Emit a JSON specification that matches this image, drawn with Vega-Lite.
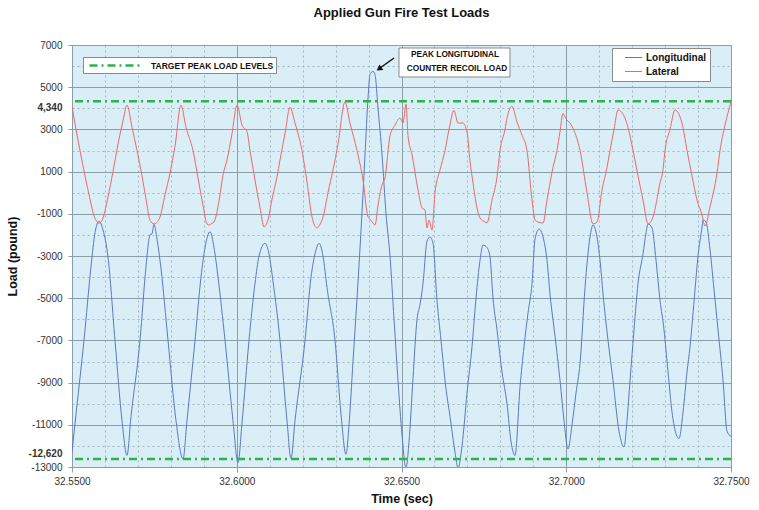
{
  "$schema": "https://vega.github.io/schema/vega-lite/v6.json",
  "width": 659,
  "height": 422,
  "autosize": {"type": "none"},
  "padding": {"left": 72, "top": 45, "right": 28, "bottom": 43},
  "background": "white",
  "title": {"text": "Applied Gun Fire Test Loads", "fontSize": 13, "font": "Liberation Sans", "fontWeight": "bold", "color": "#111111", "anchor": "middle", "frame": "group", "offset": 20},
  "datasets": {
    "loads": [
      {"t": 32.55000, "load": -12300, "series": "Longitudinal"},
      {"t": 32.55121, "load": -10500, "series": "Longitudinal"},
      {"t": 32.55364, "load": -7000, "series": "Longitudinal"},
      {"t": 32.55577, "load": -3500, "series": "Longitudinal"},
      {"t": 32.55698, "load": -1900, "series": "Longitudinal"},
      {"t": 32.55819, "load": -1350, "series": "Longitudinal"},
      {"t": 32.55941, "load": -1770, "series": "Longitudinal"},
      {"t": 32.56093, "load": -3050, "series": "Longitudinal"},
      {"t": 32.56305, "load": -7000, "series": "Longitudinal"},
      {"t": 32.56518, "load": -10800, "series": "Longitudinal"},
      {"t": 32.56669, "load": -12450, "series": "Longitudinal"},
      {"t": 32.56791, "load": -10600, "series": "Longitudinal"},
      {"t": 32.57064, "load": -7000, "series": "Longitudinal"},
      {"t": 32.57246, "load": -3500, "series": "Longitudinal"},
      {"t": 32.57367, "load": -2000, "series": "Longitudinal"},
      {"t": 32.57428, "load": -1950, "series": "Longitudinal"},
      {"t": 32.57489, "load": -1500, "series": "Longitudinal"},
      {"t": 32.57580, "load": -2200, "series": "Longitudinal"},
      {"t": 32.57701, "load": -3600, "series": "Longitudinal"},
      {"t": 32.57914, "load": -7000, "series": "Longitudinal"},
      {"t": 32.58156, "load": -10800, "series": "Longitudinal"},
      {"t": 32.58369, "load": -12620, "series": "Longitudinal"},
      {"t": 32.58490, "load": -10800, "series": "Longitudinal"},
      {"t": 32.58733, "load": -7000, "series": "Longitudinal"},
      {"t": 32.58915, "load": -4000, "series": "Longitudinal"},
      {"t": 32.59037, "load": -2600, "series": "Longitudinal"},
      {"t": 32.59188, "load": -1850, "series": "Longitudinal"},
      {"t": 32.59310, "load": -2600, "series": "Longitudinal"},
      {"t": 32.59431, "load": -4000, "series": "Longitudinal"},
      {"t": 32.59644, "load": -7000, "series": "Longitudinal"},
      {"t": 32.59886, "load": -10800, "series": "Longitudinal"},
      {"t": 32.60038, "load": -12800, "series": "Longitudinal"},
      {"t": 32.60160, "load": -10900, "series": "Longitudinal"},
      {"t": 32.60372, "load": -7000, "series": "Longitudinal"},
      {"t": 32.60554, "load": -4300, "series": "Longitudinal"},
      {"t": 32.60676, "load": -3000, "series": "Longitudinal"},
      {"t": 32.60858, "load": -2400, "series": "Longitudinal"},
      {"t": 32.60979, "load": -2900, "series": "Longitudinal"},
      {"t": 32.61100, "load": -4200, "series": "Longitudinal"},
      {"t": 32.61313, "load": -7000, "series": "Longitudinal"},
      {"t": 32.61525, "load": -10800, "series": "Longitudinal"},
      {"t": 32.61647, "load": -12600, "series": "Longitudinal"},
      {"t": 32.61768, "load": -10800, "series": "Longitudinal"},
      {"t": 32.62072, "load": -7000, "series": "Longitudinal"},
      {"t": 32.62254, "load": -4000, "series": "Longitudinal"},
      {"t": 32.62375, "load": -2900, "series": "Longitudinal"},
      {"t": 32.62497, "load": -2400, "series": "Longitudinal"},
      {"t": 32.62618, "load": -3000, "series": "Longitudinal"},
      {"t": 32.62739, "load": -4500, "series": "Longitudinal"},
      {"t": 32.62982, "load": -7000, "series": "Longitudinal"},
      {"t": 32.63164, "load": -10500, "series": "Longitudinal"},
      {"t": 32.63316, "load": -12400, "series": "Longitudinal"},
      {"t": 32.63407, "load": -11000, "series": "Longitudinal"},
      {"t": 32.63528, "load": -8000, "series": "Longitudinal"},
      {"t": 32.63650, "load": -5000, "series": "Longitudinal"},
      {"t": 32.63771, "load": -1800, "series": "Longitudinal"},
      {"t": 32.63893, "load": 1800, "series": "Longitudinal"},
      {"t": 32.63984, "load": 4500, "series": "Longitudinal"},
      {"t": 32.64044, "load": 5600, "series": "Longitudinal"},
      {"t": 32.64135, "load": 5750, "series": "Longitudinal"},
      {"t": 32.64196, "load": 5600, "series": "Longitudinal"},
      {"t": 32.64287, "load": 4000, "series": "Longitudinal"},
      {"t": 32.64409, "load": 1800, "series": "Longitudinal"},
      {"t": 32.64530, "load": -1000, "series": "Longitudinal"},
      {"t": 32.64651, "load": -3000, "series": "Longitudinal"},
      {"t": 32.64773, "load": -6000, "series": "Longitudinal"},
      {"t": 32.64894, "load": -8900, "series": "Longitudinal"},
      {"t": 32.65016, "load": -11500, "series": "Longitudinal"},
      {"t": 32.65137, "load": -13050, "series": "Longitudinal"},
      {"t": 32.65228, "load": -11800, "series": "Longitudinal"},
      {"t": 32.65349, "load": -8800, "series": "Longitudinal"},
      {"t": 32.65471, "load": -6000, "series": "Longitudinal"},
      {"t": 32.65562, "load": -5300, "series": "Longitudinal"},
      {"t": 32.65653, "load": -4300, "series": "Longitudinal"},
      {"t": 32.65774, "load": -2300, "series": "Longitudinal"},
      {"t": 32.65865, "load": -2100, "series": "Longitudinal"},
      {"t": 32.65956, "load": -2400, "series": "Longitudinal"},
      {"t": 32.66078, "load": -5100, "series": "Longitudinal"},
      {"t": 32.66199, "load": -7000, "series": "Longitudinal"},
      {"t": 32.66351, "load": -9300, "series": "Longitudinal"},
      {"t": 32.66472, "load": -10600, "series": "Longitudinal"},
      {"t": 32.66624, "load": -12300, "series": "Longitudinal"},
      {"t": 32.66715, "load": -13050, "series": "Longitudinal"},
      {"t": 32.66837, "load": -12000, "series": "Longitudinal"},
      {"t": 32.66988, "load": -9500, "series": "Longitudinal"},
      {"t": 32.67140, "load": -7300, "series": "Longitudinal"},
      {"t": 32.67261, "load": -5000, "series": "Longitudinal"},
      {"t": 32.67383, "load": -3200, "series": "Longitudinal"},
      {"t": 32.67474, "load": -2480, "series": "Longitudinal"},
      {"t": 32.67595, "load": -2600, "series": "Longitudinal"},
      {"t": 32.67686, "load": -3050, "series": "Longitudinal"},
      {"t": 32.67777, "load": -5000, "series": "Longitudinal"},
      {"t": 32.67899, "load": -6500, "series": "Longitudinal"},
      {"t": 32.68051, "load": -8500, "series": "Longitudinal"},
      {"t": 32.68202, "load": -10000, "series": "Longitudinal"},
      {"t": 32.68324, "load": -11800, "series": "Longitudinal"},
      {"t": 32.68445, "load": -12450, "series": "Longitudinal"},
      {"t": 32.68597, "load": -9200, "series": "Longitudinal"},
      {"t": 32.68718, "load": -7300, "series": "Longitudinal"},
      {"t": 32.68840, "load": -5700, "series": "Longitudinal"},
      {"t": 32.68961, "load": -4300, "series": "Longitudinal"},
      {"t": 32.69052, "load": -2200, "series": "Longitudinal"},
      {"t": 32.69174, "load": -1720, "series": "Longitudinal"},
      {"t": 32.69295, "load": -2100, "series": "Longitudinal"},
      {"t": 32.69416, "load": -3200, "series": "Longitudinal"},
      {"t": 32.69507, "load": -4800, "series": "Longitudinal"},
      {"t": 32.69659, "load": -6800, "series": "Longitudinal"},
      {"t": 32.69811, "load": -8900, "series": "Longitudinal"},
      {"t": 32.69932, "load": -10800, "series": "Longitudinal"},
      {"t": 32.70054, "load": -12150, "series": "Longitudinal"},
      {"t": 32.70175, "load": -11000, "series": "Longitudinal"},
      {"t": 32.70296, "load": -9500, "series": "Longitudinal"},
      {"t": 32.70418, "load": -8100, "series": "Longitudinal"},
      {"t": 32.70570, "load": -4500, "series": "Longitudinal"},
      {"t": 32.70721, "load": -2100, "series": "Longitudinal"},
      {"t": 32.70812, "load": -1530, "series": "Longitudinal"},
      {"t": 32.70934, "load": -2100, "series": "Longitudinal"},
      {"t": 32.71025, "load": -3200, "series": "Longitudinal"},
      {"t": 32.71116, "load": -4800, "series": "Longitudinal"},
      {"t": 32.71268, "load": -7000, "series": "Longitudinal"},
      {"t": 32.71419, "load": -8900, "series": "Longitudinal"},
      {"t": 32.71601, "load": -11300, "series": "Longitudinal"},
      {"t": 32.71753, "load": -12050, "series": "Longitudinal"},
      {"t": 32.71844, "load": -10800, "series": "Longitudinal"},
      {"t": 32.71935, "load": -8900, "series": "Longitudinal"},
      {"t": 32.72057, "load": -6500, "series": "Longitudinal"},
      {"t": 32.72178, "load": -4300, "series": "Longitudinal"},
      {"t": 32.72330, "load": -2900, "series": "Longitudinal"},
      {"t": 32.72421, "load": -1900, "series": "Longitudinal"},
      {"t": 32.72482, "load": -1480, "series": "Longitudinal"},
      {"t": 32.72603, "load": -1670, "series": "Longitudinal"},
      {"t": 32.72724, "load": -3200, "series": "Longitudinal"},
      {"t": 32.72846, "load": -5100, "series": "Longitudinal"},
      {"t": 32.72967, "load": -6500, "series": "Longitudinal"},
      {"t": 32.73089, "load": -8500, "series": "Longitudinal"},
      {"t": 32.73210, "load": -10400, "series": "Longitudinal"},
      {"t": 32.73422, "load": -11650, "series": "Longitudinal"},
      {"t": 32.73544, "load": -10400, "series": "Longitudinal"},
      {"t": 32.73665, "load": -8500, "series": "Longitudinal"},
      {"t": 32.73756, "load": -7300, "series": "Longitudinal"},
      {"t": 32.73908, "load": -4600, "series": "Longitudinal"},
      {"t": 32.73999, "load": -3000, "series": "Longitudinal"},
      {"t": 32.74121, "load": -1630, "series": "Longitudinal"},
      {"t": 32.74151, "load": -1290, "series": "Longitudinal"},
      {"t": 32.74242, "load": -1390, "series": "Longitudinal"},
      {"t": 32.74363, "load": -2700, "series": "Longitudinal"},
      {"t": 32.74485, "load": -4600, "series": "Longitudinal"},
      {"t": 32.74606, "load": -6500, "series": "Longitudinal"},
      {"t": 32.74758, "load": -8900, "series": "Longitudinal"},
      {"t": 32.74879, "load": -11300, "series": "Longitudinal"},
      {"t": 32.75000, "load": -11550, "series": "Longitudinal"},
      {"t": 32.55000, "load": 4100, "series": "Lateral"},
      {"t": 32.55121, "load": 3000, "series": "Lateral"},
      {"t": 32.55243, "load": 2000, "series": "Lateral"},
      {"t": 32.55395, "load": 800, "series": "Lateral"},
      {"t": 32.55546, "load": -300, "series": "Lateral"},
      {"t": 32.55668, "load": -1100, "series": "Lateral"},
      {"t": 32.55728, "load": -1300, "series": "Lateral"},
      {"t": 32.55819, "load": -1450, "series": "Lateral"},
      {"t": 32.55880, "load": -1400, "series": "Lateral"},
      {"t": 32.55941, "load": -1200, "series": "Lateral"},
      {"t": 32.56093, "load": -200, "series": "Lateral"},
      {"t": 32.56244, "load": 1000, "series": "Lateral"},
      {"t": 32.56396, "load": 2300, "series": "Lateral"},
      {"t": 32.56548, "load": 3400, "series": "Lateral"},
      {"t": 32.56669, "load": 4150, "series": "Lateral"},
      {"t": 32.56821, "load": 3100, "series": "Lateral"},
      {"t": 32.56973, "load": 2000, "series": "Lateral"},
      {"t": 32.57124, "load": 800, "series": "Lateral"},
      {"t": 32.57246, "load": -300, "series": "Lateral"},
      {"t": 32.57367, "load": -1300, "series": "Lateral"},
      {"t": 32.57489, "load": -1480, "series": "Lateral"},
      {"t": 32.57580, "load": -1400, "series": "Lateral"},
      {"t": 32.57671, "load": -1150, "series": "Lateral"},
      {"t": 32.57822, "load": -100, "series": "Lateral"},
      {"t": 32.57974, "load": 930, "series": "Lateral"},
      {"t": 32.58126, "load": 2200, "series": "Lateral"},
      {"t": 32.58308, "load": 4150, "series": "Lateral"},
      {"t": 32.58460, "load": 3100, "series": "Lateral"},
      {"t": 32.58672, "load": 2000, "series": "Lateral"},
      {"t": 32.58824, "load": 700, "series": "Lateral"},
      {"t": 32.58976, "load": -600, "series": "Lateral"},
      {"t": 32.59097, "load": -1480, "series": "Lateral"},
      {"t": 32.59158, "load": -1530, "series": "Lateral"},
      {"t": 32.59249, "load": -1450, "series": "Lateral"},
      {"t": 32.59310, "load": -1390, "series": "Lateral"},
      {"t": 32.59461, "load": -400, "series": "Lateral"},
      {"t": 32.59583, "load": 840, "series": "Lateral"},
      {"t": 32.59704, "load": 1550, "series": "Lateral"},
      {"t": 32.59856, "load": 2800, "series": "Lateral"},
      {"t": 32.60008, "load": 4150, "series": "Lateral"},
      {"t": 32.60160, "load": 3200, "series": "Lateral"},
      {"t": 32.60311, "load": 2900, "series": "Lateral"},
      {"t": 32.60402, "load": 2000, "series": "Lateral"},
      {"t": 32.60554, "load": 600, "series": "Lateral"},
      {"t": 32.60706, "load": -700, "series": "Lateral"},
      {"t": 32.60827, "load": -1620, "series": "Lateral"},
      {"t": 32.60948, "load": -1290, "series": "Lateral"},
      {"t": 32.61070, "load": -300, "series": "Lateral"},
      {"t": 32.61222, "load": 750, "series": "Lateral"},
      {"t": 32.61313, "load": 1550, "series": "Lateral"},
      {"t": 32.61464, "load": 2800, "series": "Lateral"},
      {"t": 32.61616, "load": 4050, "series": "Lateral"},
      {"t": 32.61768, "load": 3300, "series": "Lateral"},
      {"t": 32.61980, "load": 2000, "series": "Lateral"},
      {"t": 32.62132, "load": 500, "series": "Lateral"},
      {"t": 32.62284, "load": -1150, "series": "Lateral"},
      {"t": 32.62436, "load": -1670, "series": "Lateral"},
      {"t": 32.62527, "load": -1500, "series": "Lateral"},
      {"t": 32.62618, "load": -1150, "series": "Lateral"},
      {"t": 32.62769, "load": 0, "series": "Lateral"},
      {"t": 32.62921, "load": 1075, "series": "Lateral"},
      {"t": 32.63073, "load": 2300, "series": "Lateral"},
      {"t": 32.63285, "load": 4300, "series": "Lateral"},
      {"t": 32.63437, "load": 3300, "series": "Lateral"},
      {"t": 32.63650, "load": 2000, "series": "Lateral"},
      {"t": 32.63832, "load": 600, "series": "Lateral"},
      {"t": 32.63984, "load": -1150, "series": "Lateral"},
      {"t": 32.64074, "load": -1300, "series": "Lateral"},
      {"t": 32.64196, "load": -1530, "series": "Lateral"},
      {"t": 32.64287, "load": -600, "series": "Lateral"},
      {"t": 32.64409, "load": 370, "series": "Lateral"},
      {"t": 32.64499, "load": 700, "series": "Lateral"},
      {"t": 32.64651, "load": 2700, "series": "Lateral"},
      {"t": 32.64803, "load": 3200, "series": "Lateral"},
      {"t": 32.64954, "load": 3540, "series": "Lateral"},
      {"t": 32.65046, "load": 3300, "series": "Lateral"},
      {"t": 32.65137, "load": 4200, "series": "Lateral"},
      {"t": 32.65197, "load": 2700, "series": "Lateral"},
      {"t": 32.65319, "load": 1800, "series": "Lateral"},
      {"t": 32.65501, "load": 130, "series": "Lateral"},
      {"t": 32.65622, "load": -720, "series": "Lateral"},
      {"t": 32.65713, "load": -820, "series": "Lateral"},
      {"t": 32.65774, "load": -1670, "series": "Lateral"},
      {"t": 32.65835, "load": -1300, "series": "Lateral"},
      {"t": 32.65926, "load": -1770, "series": "Lateral"},
      {"t": 32.66017, "load": 0, "series": "Lateral"},
      {"t": 32.66168, "load": 1075, "series": "Lateral"},
      {"t": 32.66320, "load": 2000, "series": "Lateral"},
      {"t": 32.66442, "load": 3000, "series": "Lateral"},
      {"t": 32.66593, "load": 3900, "series": "Lateral"},
      {"t": 32.66715, "load": 3300, "series": "Lateral"},
      {"t": 32.66867, "load": 3300, "series": "Lateral"},
      {"t": 32.66988, "load": 2880, "series": "Lateral"},
      {"t": 32.67079, "load": 1500, "series": "Lateral"},
      {"t": 32.67170, "load": 460, "series": "Lateral"},
      {"t": 32.67291, "load": -720, "series": "Lateral"},
      {"t": 32.67383, "load": -1200, "series": "Lateral"},
      {"t": 32.67534, "load": -1390, "series": "Lateral"},
      {"t": 32.67595, "load": -1420, "series": "Lateral"},
      {"t": 32.67747, "load": -350, "series": "Lateral"},
      {"t": 32.67899, "load": 750, "series": "Lateral"},
      {"t": 32.67989, "load": 2000, "series": "Lateral"},
      {"t": 32.68141, "load": 3000, "series": "Lateral"},
      {"t": 32.68202, "load": 3540, "series": "Lateral"},
      {"t": 32.68354, "load": 4100, "series": "Lateral"},
      {"t": 32.68505, "load": 3350, "series": "Lateral"},
      {"t": 32.68657, "load": 2730, "series": "Lateral"},
      {"t": 32.68809, "load": 2000, "series": "Lateral"},
      {"t": 32.68961, "load": -350, "series": "Lateral"},
      {"t": 32.69052, "load": -1290, "series": "Lateral"},
      {"t": 32.69143, "load": -1390, "series": "Lateral"},
      {"t": 32.69295, "load": -1440, "series": "Lateral"},
      {"t": 32.69416, "load": -350, "series": "Lateral"},
      {"t": 32.69598, "load": 1200, "series": "Lateral"},
      {"t": 32.69719, "load": 2000, "series": "Lateral"},
      {"t": 32.69811, "load": 2900, "series": "Lateral"},
      {"t": 32.69901, "load": 3750, "series": "Lateral"},
      {"t": 32.69992, "load": 3500, "series": "Lateral"},
      {"t": 32.70114, "load": 3300, "series": "Lateral"},
      {"t": 32.70205, "load": 3050, "series": "Lateral"},
      {"t": 32.70418, "load": 2000, "series": "Lateral"},
      {"t": 32.70630, "load": 0, "series": "Lateral"},
      {"t": 32.70812, "load": -1480, "series": "Lateral"},
      {"t": 32.70934, "load": -1390, "series": "Lateral"},
      {"t": 32.71085, "load": 130, "series": "Lateral"},
      {"t": 32.71237, "load": 1200, "series": "Lateral"},
      {"t": 32.71328, "load": 2000, "series": "Lateral"},
      {"t": 32.71449, "load": 3000, "series": "Lateral"},
      {"t": 32.71571, "load": 3920, "series": "Lateral"},
      {"t": 32.71783, "load": 3540, "series": "Lateral"},
      {"t": 32.71874, "load": 3100, "series": "Lateral"},
      {"t": 32.72026, "load": 2000, "series": "Lateral"},
      {"t": 32.72178, "load": 800, "series": "Lateral"},
      {"t": 32.72330, "load": -350, "series": "Lateral"},
      {"t": 32.72482, "load": -1480, "series": "Lateral"},
      {"t": 32.72633, "load": -1150, "series": "Lateral"},
      {"t": 32.72846, "load": 460, "series": "Lateral"},
      {"t": 32.72937, "load": 1100, "series": "Lateral"},
      {"t": 32.72997, "load": 2000, "series": "Lateral"},
      {"t": 32.73149, "load": 3000, "series": "Lateral"},
      {"t": 32.73300, "load": 3920, "series": "Lateral"},
      {"t": 32.73513, "load": 3300, "series": "Lateral"},
      {"t": 32.73665, "load": 2000, "series": "Lateral"},
      {"t": 32.73816, "load": 800, "series": "Lateral"},
      {"t": 32.73968, "load": -350, "series": "Lateral"},
      {"t": 32.74121, "load": -1050, "series": "Lateral"},
      {"t": 32.74211, "load": -1580, "series": "Lateral"},
      {"t": 32.74363, "load": -670, "series": "Lateral"},
      {"t": 32.74575, "load": 930, "series": "Lateral"},
      {"t": 32.74666, "load": 2000, "series": "Lateral"},
      {"t": 32.74818, "load": 3200, "series": "Lateral"},
      {"t": 32.75000, "load": 4300, "series": "Lateral"}
    ],
    "targets": [
      {"load": 4340, "name": "TARGET PEAK LOAD LEVELS"},
      {"load": -12620, "name": "TARGET PEAK LOAD LEVELS"}
    ],
    "calloutBox": [
      {"t": 32.64924, "t2": 32.68293, "load": 6858, "load2": 5483}
    ],
    "calloutText": [
      {"t": 32.66624, "load": 6526, "text": "PEAK LONGITUDINAL"},
      {"t": 32.66684, "load": 5863, "text": "COUNTER RECOIL LOAD"}
    ],
    "arrow": [
      {"t": 32.64773, "load": 6384, "t2": 32.64348, "load2": 5910}
    ],
    "arrowHead": [
      {"t": 32.64318, "load": 5870}
    ]
  },
  "layer": [
    {
      "data": {"name": "loads"},
      "mark": {"type": "line", "interpolate": "monotone", "strokeWidth": 1, "clip": true},
      "encoding": {
        "x": {
          "field": "t", "type": "quantitative",
          "scale": {"domain": [32.55, 32.75], "nice": false, "zero": false},
          "axis": {
            "title": "Time (sec)",
            "values": [32.55, 32.56, 32.57, 32.58, 32.59, 32.60, 32.61, 32.62, 32.63, 32.64, 32.65, 32.66, 32.67, 32.68, 32.69, 32.70, 32.71, 32.72, 32.73, 32.74, 32.75],
            "tickCount": 200,
            "labelExpr": "abs(datum.value*20 - round(datum.value*20)) < 0.001 ? format(datum.value, '.4f') : ''",
            "grid": true,
            "gridColor": {"condition": {"test": "abs(datum.value*20 - round(datum.value*20)) < 0.001", "value": "#8c9ea8"}, "value": "#a3b6bf"},
            "gridDash": {"condition": {"test": "abs(datum.value*20 - round(datum.value*20)) < 0.001", "value": []}, "value": [2, 3]},
            "tickOpacity": {"condition": {"test": "abs(datum.value*20 - round(datum.value*20)) < 0.001", "value": 1}, "value": 0},
            "tickSize": 5,
            "labelPadding": 4,
            "titlePadding": 6
          }
        },
        "y": {
          "field": "load", "type": "quantitative",
          "scale": {"domain": [-13000, 7000], "nice": false, "zero": false},
          "axis": {
            "title": "Load (pound)",
            "values": [7000, 6000, 5000, 4340, 4000, 3000, 2000, 1000, 0, -1000, -2000, -3000, -4000, -5000, -6000, -7000, -8000, -9000, -10000, -11000, -12000, -12620, -13000],
            "tickCount": 200,
            "labelExpr": "datum.value == 4340 ? '4,340' : (datum.value == -12620 ? '-12,620' : (abs(datum.value) % 2000 == 1000 ? '' + datum.value : ''))",
            "grid": true,
            "gridColor": {"condition": {"test": "abs(datum.value) % 2000 == 0", "value": "#a3b6bf"}, "value": "#8c9ea8"},
            "gridDash": {"condition": {"test": "abs(datum.value) % 2000 == 0", "value": [2, 3]}, "value": []},
            "gridOpacity": {"condition": {"test": "datum.value == 4340 || datum.value == -12620", "value": 0}, "value": 1},
            "tickOpacity": {"condition": {"test": "abs(datum.value) % 2000 == 1000", "value": 1}, "value": 0},
            "labelFontWeight": {"condition": {"test": "datum.value == 4340 || datum.value == -12620", "value": "bold"}, "value": "normal"},
            "labelOffset": {"condition": [{"test": "datum.value == 4340", "value": 6}, {"test": "datum.value == -12620", "value": -5}], "value": 0},
            "tickSize": 4,
            "labelPadding": 6,
            "titlePadding": 9
          }
        },
        "color": {
          "field": "series", "type": "nominal",
          "scale": {"domain": ["Longitudinal", "Lateral"], "range": ["#5b78c4", "#f0676a"]},
          "legend": {
            "orient": "none", "legendX": 540, "legendY": 3, "title": null,
            "fillColor": "white", "strokeColor": "#8a8a8a", "padding": 4,
            "symbolType": "M-1.7,0H1.7", "symbolSize": 100, "symbolStrokeWidth": 1, "symbolOffset": 12,
            "labelFontSize": 10, "labelFontWeight": "bold", "labelFont": "Liberation Sans", "labelColor": "#111111",
            "rowPadding": 3, "labelOffset": 7
          }
        }
      }
    },
    {
      "data": {"name": "targets"},
      "mark": {"type": "rule", "color": "#2db34a", "strokeWidth": 2.5},
      "encoding": {
        "y": {"field": "load", "type": "quantitative"},
        "strokeDash": {
          "field": "name", "type": "nominal",
          "scale": {"range": [[8, 4, 2, 4]]},
          "legend": {
            "orient": "none", "legendX": 11, "legendY": 12, "title": null,
            "fillColor": "white", "strokeColor": "#8a8a8a", "padding": 2,
            "symbolType": "M-5.4,0H5.4", "symbolSize": 100, "symbolStrokeWidth": 2.5, "symbolStrokeColor": "#2db34a", "symbolOffset": 25,
            "labelFontSize": 8.5, "labelFontWeight": "bold", "labelFont": "Liberation Sans", "labelColor": "#111111",
            "labelOffset": 28
          }
        }
      }
    },
    {
      "data": {"name": "calloutBox"},
      "mark": {"type": "rect", "fill": "white", "stroke": "#8a8a8a", "strokeWidth": 1},
      "encoding": {
        "x": {"field": "t", "type": "quantitative"},
        "x2": {"field": "t2"},
        "y": {"field": "load", "type": "quantitative"},
        "y2": {"field": "load2"}
      }
    },
    {
      "data": {"name": "calloutText"},
      "mark": {"type": "text", "font": "Liberation Sans", "fontSize": 8.3, "fontWeight": "bold", "color": "#111111", "align": "center", "baseline": "middle"},
      "encoding": {
        "x": {"field": "t", "type": "quantitative"},
        "y": {"field": "load", "type": "quantitative"},
        "text": {"field": "text", "type": "nominal"}
      }
    },
    {
      "data": {"name": "arrow"},
      "mark": {"type": "rule", "color": "#111111", "strokeWidth": 1.5},
      "encoding": {
        "x": {"field": "t", "type": "quantitative"},
        "x2": {"field": "t2"},
        "y": {"field": "load", "type": "quantitative"},
        "y2": {"field": "load2"}
      }
    },
    {
      "data": {"name": "arrowHead"},
      "mark": {"type": "point", "shape": "triangle-up", "angle": 236, "filled": true, "color": "#111111", "size": 45, "opacity": 1},
      "encoding": {
        "x": {"field": "t", "type": "quantitative"},
        "y": {"field": "load", "type": "quantitative"}
      }
    }
  ],
  "config": {
    "view": {"stroke": "#9aa7ad", "fill": "#d9eef6"},
    "axis": {
      "labelFont": "Liberation Sans", "labelFontSize": 10, "labelColor": "#333333",
      "titleFont": "Liberation Sans", "titleFontSize": 12.5, "titleFontWeight": "bold", "titleColor": "#111111",
      "domainColor": "#8c9ea8", "tickColor": "#8c9ea8",
      "labelFlush": false, "labelBound": false, "labelOverlap": false
    }
  }
}
